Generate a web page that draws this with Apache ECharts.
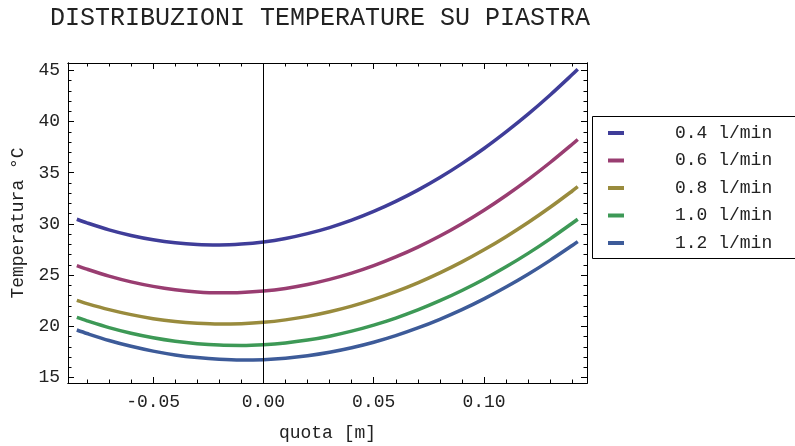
<!DOCTYPE html>
<html>
<head>
<meta charset="utf-8">
<script src="https://cdn.jsdelivr.net/npm/echarts@6/dist/echarts.min.js"></script>
<style>
  html, body { margin: 0; padding: 0; background: #fff; }
  #chart { width: 795px; height: 446px; }
</style>
</head>
<body>
<div id="chart"></div>
<script>
// Positions along the plate (m)
const quota = [-0.0846, -0.08, -0.07, -0.06, -0.05, -0.04, -0.03, -0.02, -0.01, 0,
               0.01, 0.02, 0.03, 0.04, 0.05, 0.06, 0.07, 0.08, 0.09, 0.10,
               0.11, 0.12, 0.13, 0.14, 0.1425];

// Temperature profiles (°C) for each flow rate
const flowNames = ['0.4 l/min', '0.6 l/min', '0.8 l/min', '1.0 l/min', '1.2 l/min'];
const t04 = [30.46, 30.11, 29.43, 28.88, 28.46, 28.16, 27.99, 27.95, 28.04, 28.25,
             28.59, 29.06, 29.65, 30.37, 31.22, 32.20, 33.30, 34.53, 35.89, 37.37,
             38.99, 40.72, 42.59, 44.58, 45.10];
const t06 = [25.94, 25.59, 24.91, 24.35, 23.91, 23.58, 23.37, 23.28, 23.31, 23.45,
             23.71, 24.09, 24.59, 25.20, 25.93, 26.78, 27.74, 28.82, 30.02, 31.34,
             32.78, 34.33, 36.00, 37.78, 38.25];
const t08 = [22.54, 22.23, 21.64, 21.15, 20.76, 20.48, 20.31, 20.23, 20.27, 20.40,
             20.64, 20.98, 21.43, 21.98, 22.64, 23.40, 24.26, 25.23, 26.30, 27.48,
             28.76, 30.14, 31.63, 33.22, 33.64];
const t10 = [20.88, 20.55, 19.89, 19.34, 18.90, 18.56, 18.32, 18.18, 18.15, 18.22,
             18.39, 18.67, 19.05, 19.54, 20.13, 20.82, 21.61, 22.51, 23.51, 24.61,
             25.82, 27.13, 28.55, 30.07, 30.46];
const t12 = [19.65, 19.31, 18.63, 18.06, 17.59, 17.22, 16.96, 16.79, 16.72, 16.76,
             16.90, 17.14, 17.48, 17.92, 18.46, 19.10, 19.85, 20.70, 21.64, 22.69,
             23.84, 25.09, 26.45, 27.90, 28.28];
const profiles = [t04, t06, t08, t10, t12];
const colors = ['#3F3D99', '#993D71', '#998B3D', '#3D9956', '#3D5B99'];

// Tick positions
const xMajor = [-0.05, 0, 0.05, 0.1];
const xMinor = [-0.08, -0.07, -0.06, -0.04, -0.03, -0.02, -0.01, 0.01, 0.02, 0.03, 0.04,
                0.06, 0.07, 0.08, 0.09, 0.11, 0.12, 0.13, 0.14];
const yMajor = [15, 20, 25, 30, 35, 40, 45];
const yMinor = [16, 17, 18, 19, 21, 22, 23, 24, 26, 27, 28, 29, 31, 32, 33, 34,
                36, 37, 38, 39, 41, 42, 43, 44];

const xRange = [-0.0886, 0.1467];
const yRange = [14.48, 45.71];

const FONT = '"Liberation Mono", "DejaVu Sans Mono", monospace';
const INK = '#222';

function frameAxis(kind, position, ticks, len, labels) {
  const range = kind === 'x' ? xRange : yRange;
  return {
    type: 'value',
    position: position,
    min: range[0],
    max: range[1],
    axisLine: { show: true, onZero: false, lineStyle: { color: '#000', width: 1 } },
    splitLine: { show: false },
    axisTick: { show: true, inside: true, length: len, customValues: ticks,
                lineStyle: { color: '#000', width: 1 } },
    axisLabel: labels ? Object.assign({ show: true, customValues: ticks,
                fontFamily: FONT, fontSize: 18, color: INK }, labels)
                      : { show: false }
  };
}

const xAxes = [
  Object.assign(frameAxis('x', 'bottom', xMajor, 6, {
    margin: 10,
    formatter: v => v.toFixed(2)
  }), {
    name: 'quota [m]', nameLocation: 'middle', nameGap: 41,
    nameTextStyle: { fontFamily: FONT, fontSize: 18, color: INK }
  }),
  frameAxis('x', 'bottom', xMinor, 3.5),
  frameAxis('x', 'top', xMajor, 6),
  frameAxis('x', 'top', xMinor, 3.5)
];

const yAxes = [
  Object.assign(frameAxis('y', 'left', yMajor, 6, {
    margin: 8,
    formatter: v => String(v)
  }), {
    name: 'Temperatura °C', nameLocation: 'middle', nameGap: 40, nameRotate: 90,
    nameTextStyle: { fontFamily: FONT, fontSize: 18, color: INK }
  }),
  frameAxis('y', 'left', yMinor, 3.5),
  frameAxis('y', 'right', yMajor, 6),
  frameAxis('y', 'right', yMinor, 3.5)
];

const series = flowNames.map((name, i) => ({
  name: name,
  type: 'line',
  xAxisIndex: 0,
  yAxisIndex: 0,
  smooth: 0.3,
  showSymbol: false,
  z: 3,
  lineStyle: { width: 3.5, color: colors[i] },
  itemStyle: { color: colors[i] },
  data: quota.map((q, k) => [q, profiles[i][k]])
}));

// Vertical axis line through quota = 0, under the curves
series.push({
  name: 'asse',
  type: 'line',
  xAxisIndex: 0,
  yAxisIndex: 0,
  data: [],
  z: 1,
  silent: true,
  markLine: {
    silent: true,
    symbol: ['none', 'none'],
    label: { show: false },
    lineStyle: { color: '#000', width: 1, type: 'solid' },
    emphasis: { disabled: true },
    data: [{ xAxis: 0 }]
  }
});

const chart = echarts.init(document.getElementById('chart'), null, { renderer: 'canvas' });
chart.setOption({
  animation: false,
  backgroundColor: '#fff',
  title: {
    text: 'DISTRIBUZIONI TEMPERATURE SU PIASTRA',
    left: 45, top: 1,
    textStyle: { fontFamily: FONT, fontSize: 25, fontWeight: 'normal', color: INK }
  },
  grid: { left: 68, top: 63, right: 208, bottom: 63, containLabel: false,
          outerBoundsMode: 'none' },
  xAxis: xAxes,
  yAxis: yAxes,
  legend: {
    data: flowNames,
    orient: 'vertical',
    left: 603, top: 118,
    icon: 'rect',
    itemWidth: 16, itemHeight: 4,
    itemGap: 7.5,
    selectedMode: false,
    textStyle: { fontFamily: FONT, fontSize: 18, color: INK, lineHeight: 20,
                 padding: [0, 0, 0, 46] }
  },
  graphic: [{
    type: 'rect',
    left: 592, top: 116,
    shape: { width: 210, height: 142 },
    style: { fill: 'rgba(0,0,0,0)', stroke: '#000', lineWidth: 1 },
    silent: true
  }],
  series: series
});
</script>
</body>
</html>
